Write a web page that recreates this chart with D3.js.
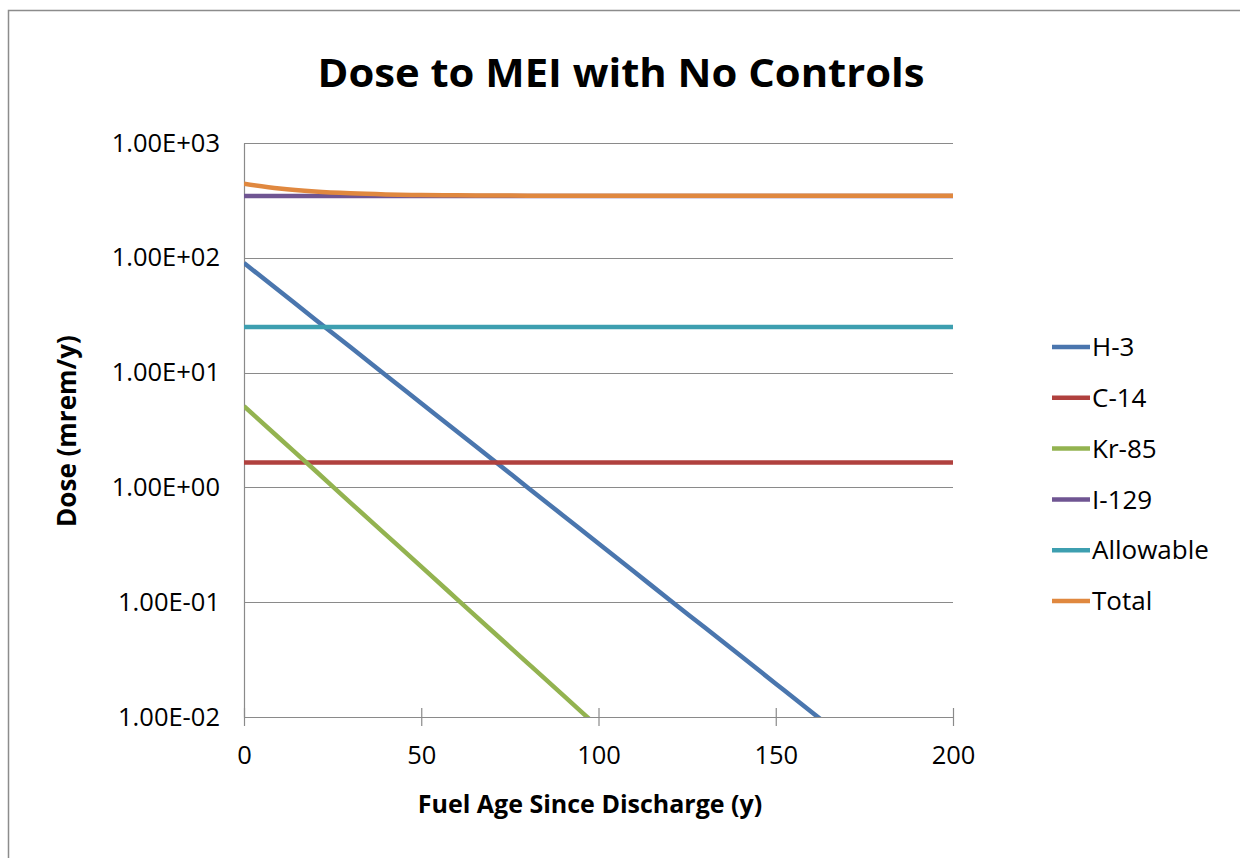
<!DOCTYPE html>
<html>
<head>
<meta charset="utf-8">
<script src="https://cdn.jsdelivr.net/npm/d3@7/dist/d3.min.js"></script>
<style>
    body { margin: 0; background: #fff; }
    svg { display: block; font-family: 'Open Sans', sans-serif; }
    .grid line { stroke: #8a8a8a; stroke-width: 1; }
    .axis path, .axis line { stroke: #8a8a8a; stroke-width: 1.2; }
</style>
</head>
<body>
<div id="chart"></div>
<script>
'use strict';

// fuel age (y)
var years = [0, 10, 20, 30, 40, 50, 60, 70, 80, 90, 100,
             110, 120, 130, 140, 150, 160, 170, 180, 190, 200];

// dose (mrem/y)
var h3 = [90, 51.3, 29.2, 16.7, 9.49, 5.41, 3.08, 1.76, 1.00, 0.570, 0.325,
          0.185, 0.105, 0.0601, 0.0343, 0.0195, 0.0111, 0.00635, 0.00362, 0.00206, 0.00118];
var c14 = [1.65, 1.65, 1.65, 1.65, 1.65, 1.65, 1.65, 1.65, 1.65, 1.65, 1.65,
           1.65, 1.65, 1.65, 1.65, 1.65, 1.65, 1.65, 1.65, 1.65, 1.65];
var kr85 = [5.1, 2.68, 1.41, 0.738, 0.388, 0.204, 0.107, 0.0561, 0.0295, 0.0155, 0.00813,
            0.00427, 0.00224, 0.00117, 0.000616, 0.000323, 0.000170, 0.000089, 0.000047, 0.000025, 0.000013];
var i129 = [345, 345, 345, 345, 345, 345, 345, 345, 345, 345, 345,
            345, 345, 345, 345, 345, 345, 345, 345, 345, 345];
var allowable = [25, 25, 25, 25, 25, 25, 25, 25, 25, 25, 25,
                 25, 25, 25, 25, 25, 25, 25, 25, 25, 25];
var total = [441.8, 400.6, 377.3, 364.1, 356.5, 352.3, 349.8, 348.5, 347.7, 347.2, 347.0,
             346.8, 346.8, 346.7, 346.7, 346.7, 346.7, 346.7, 346.7, 346.7, 346.7];

var seriesNames = ['H-3', 'C-14', 'Kr-85', 'I-129', 'Allowable', 'Total'];
var seriesValues = [h3, c14, kr85, i129, allowable, total];
var seriesColors = ['#4a76ae', '#b0413e', '#93b350', '#6f5592', '#3d9fb0', '#e0883f'];

var xTicks = [0, 50, 100, 150, 200];
var yTicks = [1e-2, 1e-1, 1e0, 1e1, 1e2, 1e3];
var yTickLabels = ['1.00E-02', '1.00E-01', '1.00E+00', '1.00E+01', '1.00E+02', '1.00E+03'];

var W = 1240, H = 858;
var margin = {top: 143, right: 287, bottom: 141, left: 244},
    width = W - margin.left - margin.right,
    height = H - margin.top - margin.bottom;

var svg = d3.select('#chart')
    .append('svg')
        .attr('width', W)
        .attr('height', H);

// chart border
svg.append('rect')
    .attr('x', 8.5)
    .attr('y', 10.5)
    .attr('width', W)
    .attr('height', H)
    .attr('fill', '#fff')
    .attr('stroke', '#8c8c8c')
    .attr('stroke-width', 1.5);

svg.append('text')
    .attr('x', 621)
    .attr('y', 87)
    .attr('text-anchor', 'middle')
    .attr('font-size', 40)
    .attr('font-weight', 'bold')
    .attr('textLength', 607)
    .attr('lengthAdjust', 'spacingAndGlyphs')
    .text('Dose to MEI with No Controls');

var g = svg.append('g')
    .attr('transform', 'translate(' + margin.left + ',' + margin.top + ')');

var xScale = d3.scaleLinear()
    .domain([0, 200])
    .range([0, width]);

var yScale = d3.scaleLog()
    .domain([1e-2, 1e3])
    .range([height, 0]);

// gridlines
g.append('g')
    .attr('class', 'grid')
    .selectAll('line')
    .data(yTicks.slice(1))
    .enter().append('line')
        .attr('x1', 0)
        .attr('x2', width)
        .attr('y1', function(d) { return Math.round(yScale(d)) + 0.5; })
        .attr('y2', function(d) { return Math.round(yScale(d)) + 0.5; });

// y axis: line + labels only
var yAxis = d3.axisLeft(yScale)
    .tickValues(yTicks)
    .tickSize(0)
    .tickPadding(24)
    .tickFormat(function(d, i) { return yTickLabels[i]; });

g.append('g')
    .attr('class', 'axis axis--y')
    .call(yAxis)
    .call(function(s) {
        s.selectAll('text')
            .attr('font-size', 25.5)
            .attr('fill', '#000')
            .attr('font-family', "'Open Sans', sans-serif");
    });

// x axis with crossing ticks
var xAxis = d3.axisBottom(xScale)
    .tickValues(xTicks)
    .tickSizeInner(9)
    .tickSizeOuter(0)
    .tickPadding(20);

var xg = g.append('g')
    .attr('class', 'axis axis--x')
    .attr('transform', 'translate(0,' + height + ')')
    .call(xAxis);

xg.selectAll('.tick line').attr('y1', -9);
xg.selectAll('text')
    .attr('font-size', 25.5)
    .attr('fill', '#000')
    .attr('font-family', "'Open Sans', sans-serif");

// axis titles
svg.append('text')
    .attr('x', 590)
    .attr('y', 813)
    .attr('text-anchor', 'middle')
    .attr('font-size', 25)
    .attr('font-weight', 'bold')
    .text('Fuel Age Since Discharge (y)');

svg.append('text')
    .attr('transform', 'translate(76,431) rotate(-90)')
    .attr('text-anchor', 'middle')
    .attr('font-size', 26)
    .attr('font-weight', 'bold')
    .text('Dose (mrem/y)');

// series
svg.append('clipPath')
    .attr('id', 'plotClip')
    .append('rect')
        .attr('x', 0)
        .attr('y', -4)
        .attr('width', width + 3)
        .attr('height', height + 4);

var line = d3.line()
    .x(function(d) { return xScale(d[0]); })
    .y(function(d) { return yScale(d[1]); })
    .curve(d3.curveMonotoneX);

var series = seriesNames.map(function(name, i) {
    return {
        name: name,
        color: seriesColors[i],
        points: years.map(function(yr, j) { return [yr, seriesValues[i][j]]; })
    };
});

g.append('g')
    .attr('clip-path', 'url(#plotClip)')
    .selectAll('path')
    .data(series)
    .enter().append('path')
        .attr('fill', 'none')
        .attr('stroke', function(d) { return d.color; })
        .attr('stroke-width', 4.5)
        .attr('stroke-linejoin', 'round')
        .attr('d', function(d) { return line(d.points); });

// legend
var legend = svg.append('g')
    .selectAll('g')
    .data(series)
    .enter().append('g')
        .attr('transform', function(d, i) { return 'translate(1052,' + (347 + i * 50.8) + ')'; });

legend.append('line')
    .attr('x1', 0)
    .attr('x2', 38)
    .attr('stroke', function(d) { return d.color; })
    .attr('stroke-width', 4.5);

legend.append('text')
    .attr('x', 40)
    .attr('dy', '0.35em')
    .attr('font-size', 26)
    .text(function(d) { return d.name; });
</script>
</body>
</html>
